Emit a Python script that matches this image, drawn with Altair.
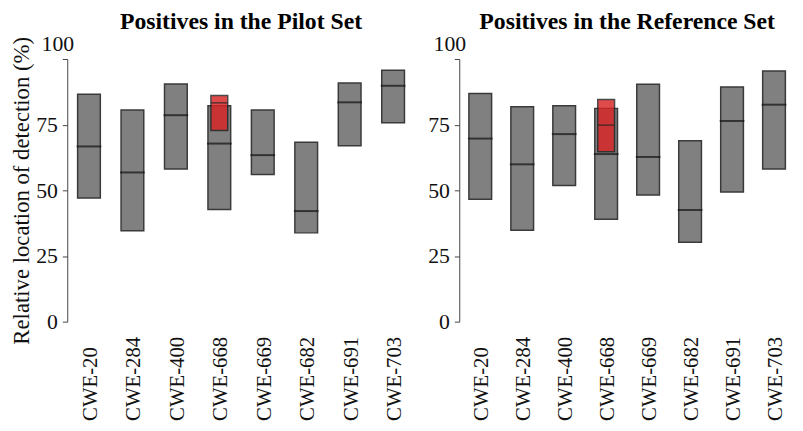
import altair as alt
import pandas as pd

cats = ["CWE-20", "CWE-284", "CWE-400", "CWE-668", "CWE-669", "CWE-682", "CWE-691", "CWE-703"]

# Positives in the Pilot Set
pilot_low = [47.1, 34.6, 58.1, 42.7, 56.0, 33.8, 67.0, 75.7]
pilot_high = [86.6, 80.6, 90.5, 82.2, 80.6, 68.3, 90.9, 95.7]
pilot_med = [66.7, 56.8, 78.6, 67.8, 63.4, 42.1, 83.5, 89.8]
pilot_hl_cat = ["CWE-668"]
pilot_hl_low = [72.8]
pilot_hl_high = [86.1]
pilot_hl_med = [83.3]

# Positives in the Reference Set
ref_low = [46.6, 34.8, 51.8, 39.0, 48.2, 30.2, 49.4, 58.1]
ref_high = [86.9, 81.8, 82.2, 81.2, 90.4, 68.9, 89.3, 95.4]
ref_med = [69.7, 59.9, 71.4, 63.8, 62.7, 42.5, 76.4, 82.6]
ref_hl_cat = ["CWE-668"]
ref_hl_low = [64.7]
ref_hl_high = [84.6]
ref_hl_med = [74.8]

y_ticks = [0, 25, 50, 75, 100]
y_title = "Relative location of detection (%)"
SERIF = "'Liberation Serif', 'Times New Roman', Times, serif"


def panel(title, low, high, med, hl_cat, hl_low, hl_high, hl_med, width, show_ytitle):
    df = pd.DataFrame({"cwe": cats, "low": low, "high": high, "med": med})
    hdf = pd.DataFrame({"cwe": hl_cat, "low": hl_low, "high": hl_high, "med": hl_med})

    x = alt.X(
        "cwe:N",
        sort=cats,
        scale=alt.Scale(domain=cats, paddingInner=0, paddingOuter=0),
        axis=alt.Axis(
            title=None,
            domain=False,
            ticks=False,
            tickSize=0,
            labelAngle=270,
            labelAlign="left",
            labelBaseline="middle",
            labelPadding=100,
            labelFont=SERIF,
            labelFontSize=21,
            labelColor="#111111",
            labelOffset=2,
        ),
    )
    yaxis = alt.Axis(
        values=y_ticks,
        title=y_title if show_ytitle else None,
        grid=False,
        domainColor="#444444",
        tickColor="#444444",
        tickSize=5,
        labelPadding=5,
        labelFont=SERIF,
        labelFontSize=22,
        labelColor="#111111",
        labelFlush=False,
        labelOverlap=False,
        labelAlign={"condition": {"test": "datum.value === 100", "value": "center"}, "value": "right"},
        labelBaseline={"condition": {"test": "datum.value === 100", "value": "alphabetic"}, "value": "middle"},
        labelOffset={"condition": {"test": "datum.value === 100", "value": -9}, "value": 0},
        titleFont=SERIF,
        titleFontSize=23,
        titleFontWeight="normal",
        titleColor="#111111",
        titlePadding=2,
    )
    y = alt.Y("low:Q", scale=alt.Scale(domain=[0, 100], nice=False, zero=True), axis=yaxis)

    base = alt.Chart(df)
    bars = base.mark_bar(size=23, color="#808080", stroke="#3a3a3a", strokeWidth=1.5).encode(
        x=x, y=y, y2="high:Q"
    )
    meds = base.mark_tick(size=25, thickness=2, color="#111111", orient="horizontal").encode(
        x=x, y=alt.Y("med:Q")
    )
    hbase = alt.Chart(hdf)
    hbar = hbase.mark_bar(size=17, color="#d92323", opacity=0.82, stroke="#222222", strokeWidth=1.5).encode(
        x=x, y=alt.Y("low:Q"), y2="high:Q"
    )
    hmed = hbase.mark_tick(size=17, thickness=1.5, color="#222222", orient="horizontal").encode(
        x=x, y=alt.Y("med:Q")
    )
    return alt.layer(bars, meds, hbar, hmed).properties(
        width=width,
        height=266,
        title=alt.TitleParams(
            title, font=SERIF, fontSize=24, fontWeight="bold", color="#000000", anchor="middle", offset=-2
        ),
    )


left = panel("Positives in the Pilot Set", pilot_low, pilot_high, pilot_med,
             pilot_hl_cat, pilot_hl_low, pilot_hl_high, pilot_hl_med, 352, True)
right = panel("Positives in the Reference Set", ref_low, ref_high, ref_med,
              ref_hl_cat, ref_hl_low, ref_hl_high, ref_hl_med, 340, False)

chart = (
    alt.hconcat(left, right, spacing=13)
    .properties(padding={"left": 2, "top": 0, "right": 0, "bottom": 0}, background="white")
    .configure_view(stroke=None)
)

chart.save("out.html", embed_options={"renderer": "svg", "actions": False})
